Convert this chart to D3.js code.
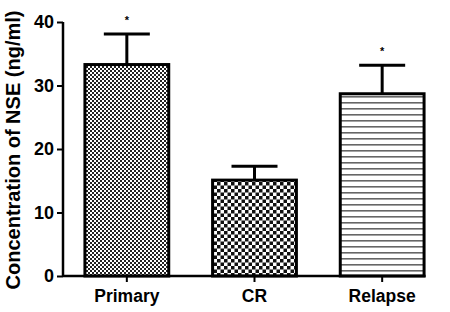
<!DOCTYPE html>
<html>
<head>
<meta charset="utf-8">
<script src="https://cdn.jsdelivr.net/npm/d3@7"></script>
<style>
  body { margin: 0; background: #fff; }
  text { font-family: "Liberation Sans", Arial, sans-serif; font-weight: bold; }
</style>
</head>
<body>
<svg id="chart" width="450" height="312"></svg>
<script>
// data
var groups = ["Primary", "CR", "Relapse"];
var means = [33.3, 15.1, 28.7];
var sems = [4.8, 2.2, 4.5];
var stars = ["*", "", "*"];
var yTicks = [0, 10, 20, 30, 40];

var svg = d3.select("#chart");
var plotLeft = 63, plotBottom = 276, plotTop = 22;

var x = d3.scaleBand().domain(groups).range([plotLeft, 446]).paddingInner(0.32).paddingOuter(0.16);
var y = d3.scaleLinear().domain([0, 40]).range([plotBottom, plotTop]);

// fill patterns
var defs = svg.append("defs");
var p1 = defs.append("pattern").attr("id", "pat0").attr("patternUnits", "userSpaceOnUse")
  .attr("width", 4).attr("height", 4);
p1.append("rect").attr("width", 4).attr("height", 4).attr("fill", "#fff");
p1.append("rect").attr("width", 2).attr("height", 2).attr("fill", "#222");
p1.append("rect").attr("x", 2).attr("y", 2).attr("width", 2).attr("height", 2).attr("fill", "#222");

var p2 = defs.append("pattern").attr("id", "pat1").attr("patternUnits", "userSpaceOnUse")
  .attr("width", 7).attr("height", 7);
p2.append("rect").attr("width", 7).attr("height", 7).attr("fill", "#fff");
p2.append("rect").attr("width", 3.5).attr("height", 3.5).attr("fill", "#111");
p2.append("rect").attr("x", 3.5).attr("y", 3.5).attr("width", 3.5).attr("height", 3.5).attr("fill", "#111");

var p3 = defs.append("pattern").attr("id", "pat2").attr("patternUnits", "userSpaceOnUse")
  .attr("width", 6).attr("height", 6);
p3.append("rect").attr("width", 6).attr("height", 6).attr("fill", "#fff");
p3.append("rect").attr("y", 0).attr("width", 6).attr("height", 1.6).attr("fill", "#666");

var data = groups.map(function (g, i) {
  return { g: g, m: means[i], e: sems[i], s: stars[i], i: i };
});

// error bars (drawn first so the bar covers the stem)
var cap = 46;
var eg = svg.append("g").attr("stroke", "#000").attr("stroke-width", 3);
data.forEach(function (d) {
  var cx = x(d.g) + x.bandwidth() / 2;
  eg.append("line").attr("x1", cx).attr("x2", cx).attr("y1", y(d.m)).attr("y2", y(d.m + d.e));
  eg.append("line").attr("x1", cx - cap / 2).attr("x2", cx + cap / 2)
    .attr("y1", y(d.m + d.e)).attr("y2", y(d.m + d.e));
});

svg.selectAll(".bar").data(data).enter().append("rect")
  .attr("class", "bar")
  .attr("x", function (d) { return x(d.g) + 1.5; })
  .attr("y", function (d) { return y(d.m); })
  .attr("width", x.bandwidth() - 3)
  .attr("height", function (d) { return plotBottom - y(d.m); })
  .attr("fill", function (d) { return "url(#pat" + d.i + ")"; })
  .attr("stroke", "#000").attr("stroke-width", 3);

// significance stars
svg.selectAll(".star").data(data).enter().append("text")
  .attr("x", function (d) { return x(d.g) + x.bandwidth() / 2; })
  .attr("y", function (d) { return y(d.m + d.e) - 10; })
  .attr("text-anchor", "middle")
  .attr("font-size", 11).attr("font-weight", "normal")
  .text(function (d) { return d.s; });

// y axis
var ya = svg.append("g").attr("transform", "translate(" + plotLeft + ",0)")
  .call(d3.axisLeft(y).tickValues(yTicks).tickSize(6).tickPadding(3));
ya.select(".domain").attr("stroke-width", 2.5).attr("d", "M0," + plotTop + "V" + plotBottom);
ya.selectAll(".tick line").attr("stroke-width", 2);
ya.selectAll(".tick text").attr("font-size", 18).attr("fill", "#000")
  .style("font-family", "Liberation Sans, Arial, sans-serif").style("font-weight", "bold");

// x axis
var lastBar = x(groups[groups.length - 1]) + x.bandwidth();
var xa = svg.append("g").attr("transform", "translate(0," + plotBottom + ")")
  .call(d3.axisBottom(x).tickSize(6));
xa.select(".domain").attr("stroke-width", 2.5).attr("d", "M" + plotLeft + ",0H" + lastBar);
xa.selectAll(".tick line").attr("stroke-width", 2);
xa.selectAll(".tick text").attr("font-size", 17.5).attr("fill", "#000")
  .attr("y", 26).attr("dy", 0)
  .style("font-family", "Liberation Sans, Arial, sans-serif").style("font-weight", "bold");

svg.append("text")
  .attr("transform", "translate(20,150) rotate(-90)")
  .attr("text-anchor", "middle")
  .attr("font-size", 20)
  .text("Concentration of NSE (ng/ml)");
</script>
</body>
</html>
